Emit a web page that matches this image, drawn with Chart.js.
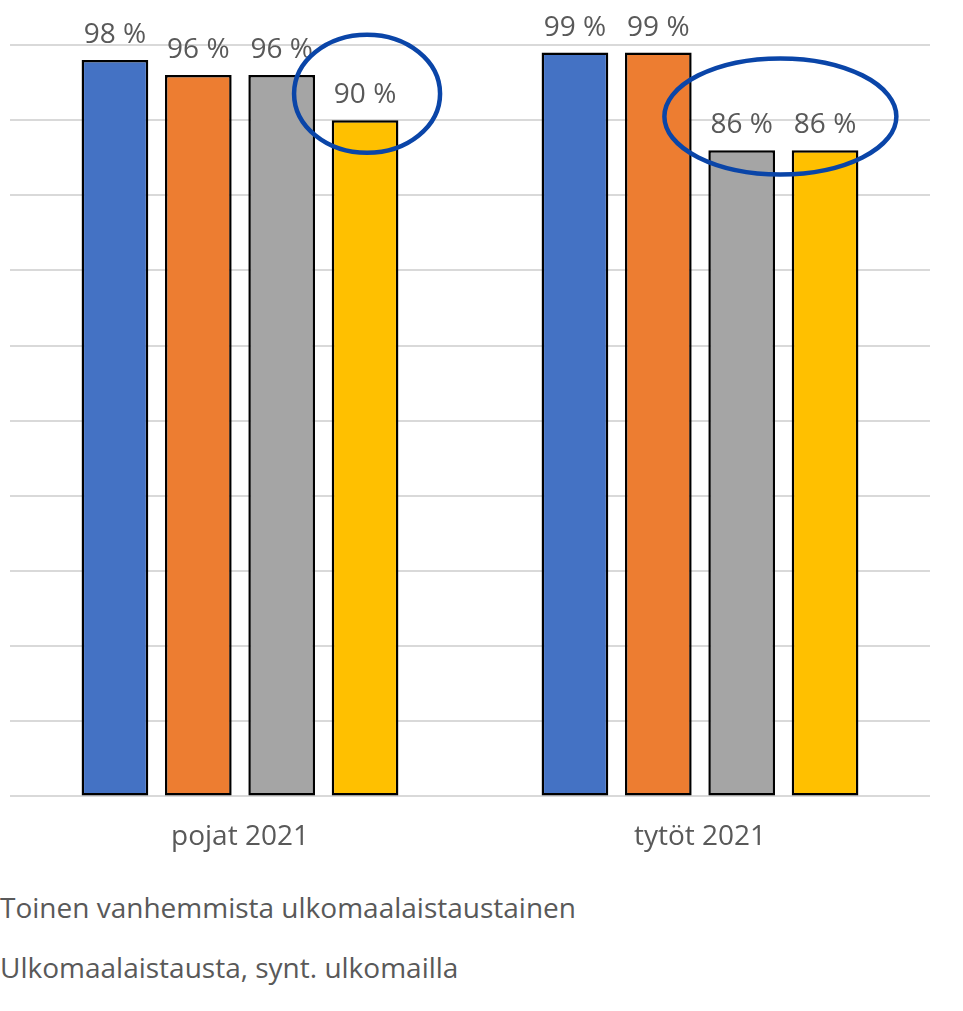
<!DOCTYPE html>
<html lang="fi">
<head>
    <meta charset="UTF-8">
    <title>pojat ja tytöt 2021</title>
    <style>
        body, html {
            margin: 0;
            padding: 0;
            background: #ffffff;
        }
        .wrap {
            position: relative;
            width: 963px;
            height: 1011px;
            overflow: hidden;
        }
        .chart-box {
            position: absolute;
            left: 0;
            top: 0;
            width: 963px;
            height: 888px;
        }
        .legend-line {
            position: absolute;
            left: 0;
            font-family: "Open Sans", sans-serif;
            font-size: 28px;
            line-height: 28px;
            color: #595959;
            white-space: nowrap;
        }
    </style>
</head>
<body>
    <div class="wrap">
        <div class="chart-box">
            <canvas id="chart1"></canvas>
        </div>
        <div class="legend-line" id="leg1" style="top: 893px;"></div>
        <div class="legend-line" id="leg2" style="top: 953px;"></div>
    </div>

    <script src="https://cdn.jsdelivr.net/npm/chart.js"></script>
    <script>
        // data
        var categories = ['pojat 2021', 'tytöt 2021'];
        var seriesNames = ['Sarja 1', 'Sarja 2', 'Toinen vanhemmista ulkomaalaistaustainen', 'Ulkomaalaistausta, synt. ulkomailla'];
        var series1 = [98, 99];
        var series2 = [96, 99];
        var series3 = [96, 86];
        var series4 = [90, 86];
        var yTicks = [0, 10, 20, 30, 40, 50, 60, 70, 80, 90, 100];
        var legendShown = [seriesNames[2], seriesNames[3]];

        var colors = ['#4472C4', '#ED7D31', '#A5A5A5', '#FFC000'];
        var textGray = '#595959';

        document.getElementById('leg1').textContent = legendShown[0];
        document.getElementById('leg2').textContent = legendShown[1];

        // value labels above the bars, "98 %"
        var valueLabels = {
            id: 'valueLabels',
            afterDatasetsDraw: function(chart) {
                var ctx = chart.ctx;
                ctx.save();
                ctx.font = '28px "Open Sans", sans-serif';
                ctx.fillStyle = textGray;
                ctx.textAlign = 'center';
                ctx.textBaseline = 'alphabetic';
                chart.data.datasets.forEach(function(ds, i) {
                    chart.getDatasetMeta(i).data.forEach(function(bar, j) {
                        ctx.fillText(ds.data[j] + ' %', bar.x, bar.y - 17);
                    });
                });
                ctx.restore();
            }
        };

        // blue hand-drawn style ellipses around the lower values
        var rings = {
            id: 'rings',
            afterDraw: function(chart, args, opts) {
                var ctx = chart.ctx;
                var yScale = chart.scales.y;
                ctx.save();
                ctx.strokeStyle = opts.color;
                ctx.lineWidth = opts.width;
                opts.items.forEach(function(it) {
                    var xs = [];
                    for (var d = it.from; d <= it.to; d++) {
                        xs.push(chart.getDatasetMeta(d).data[it.cat].x);
                    }
                    var cx = (xs[0] + xs[xs.length - 1]) / 2 + it.dx;
                    var cy = yScale.getPixelForValue(it.value);
                    ctx.beginPath();
                    ctx.ellipse(cx, cy, it.rx, it.ry, 0, 0, Math.PI * 2);
                    ctx.stroke();
                });
                ctx.restore();
            }
        };

        var ctx1 = document.getElementById('chart1').getContext('2d');
        var datasets = [series1, series2, series3, series4].map(function(vals, i) {
            return {
                label: seriesNames[i],
                data: vals,
                backgroundColor: colors[i],
                borderColor: '#000000',
                borderWidth: 2.5,
                borderSkipped: false,
                categoryPercentage: 0.725,
                barPercentage: 0.8
            };
        });

        var chart1 = new Chart(ctx1, {
            type: 'bar',
            data: {
                labels: categories,
                datasets: datasets
            },
            options: {
                responsive: true,
                maintainAspectRatio: false,
                animation: false,
                layout: {
                    padding: { top: 45, left: 10, right: 33, bottom: 10 }
                },
                plugins: {
                    legend: { display: false },
                    tooltip: { enabled: false },
                    rings: {
                        color: '#0A45A8',
                        width: 4.5,
                        items: [
                            { cat: 0, from: 3, to: 3, value: 93.5, rx: 73, ry: 59, dx: 2 },
                            { cat: 1, from: 2, to: 3, value: 90.5, rx: 116, ry: 58, dx: -3 }
                        ]
                    }
                },
                scales: {
                    x: {
                        grid: { display: false, drawTicks: false },
                        border: { display: false },
                        ticks: {
                            color: textGray,
                            padding: 24,
                            font: { family: '"Open Sans", sans-serif', size: 28 }
                        }
                    },
                    y: {
                        min: yTicks[0],
                        max: yTicks[yTicks.length - 1],
                        afterBuildTicks: function(axis) {
                            axis.ticks = yTicks.map(function(v) { return { value: v }; });
                        },
                        grid: { color: '#D9D9D9', lineWidth: 2, drawTicks: false },
                        border: { display: false },
                        ticks: { display: false }
                    }
                }
            },
            plugins: [valueLabels, rings]
        });
    </script>
</body>
</html>
